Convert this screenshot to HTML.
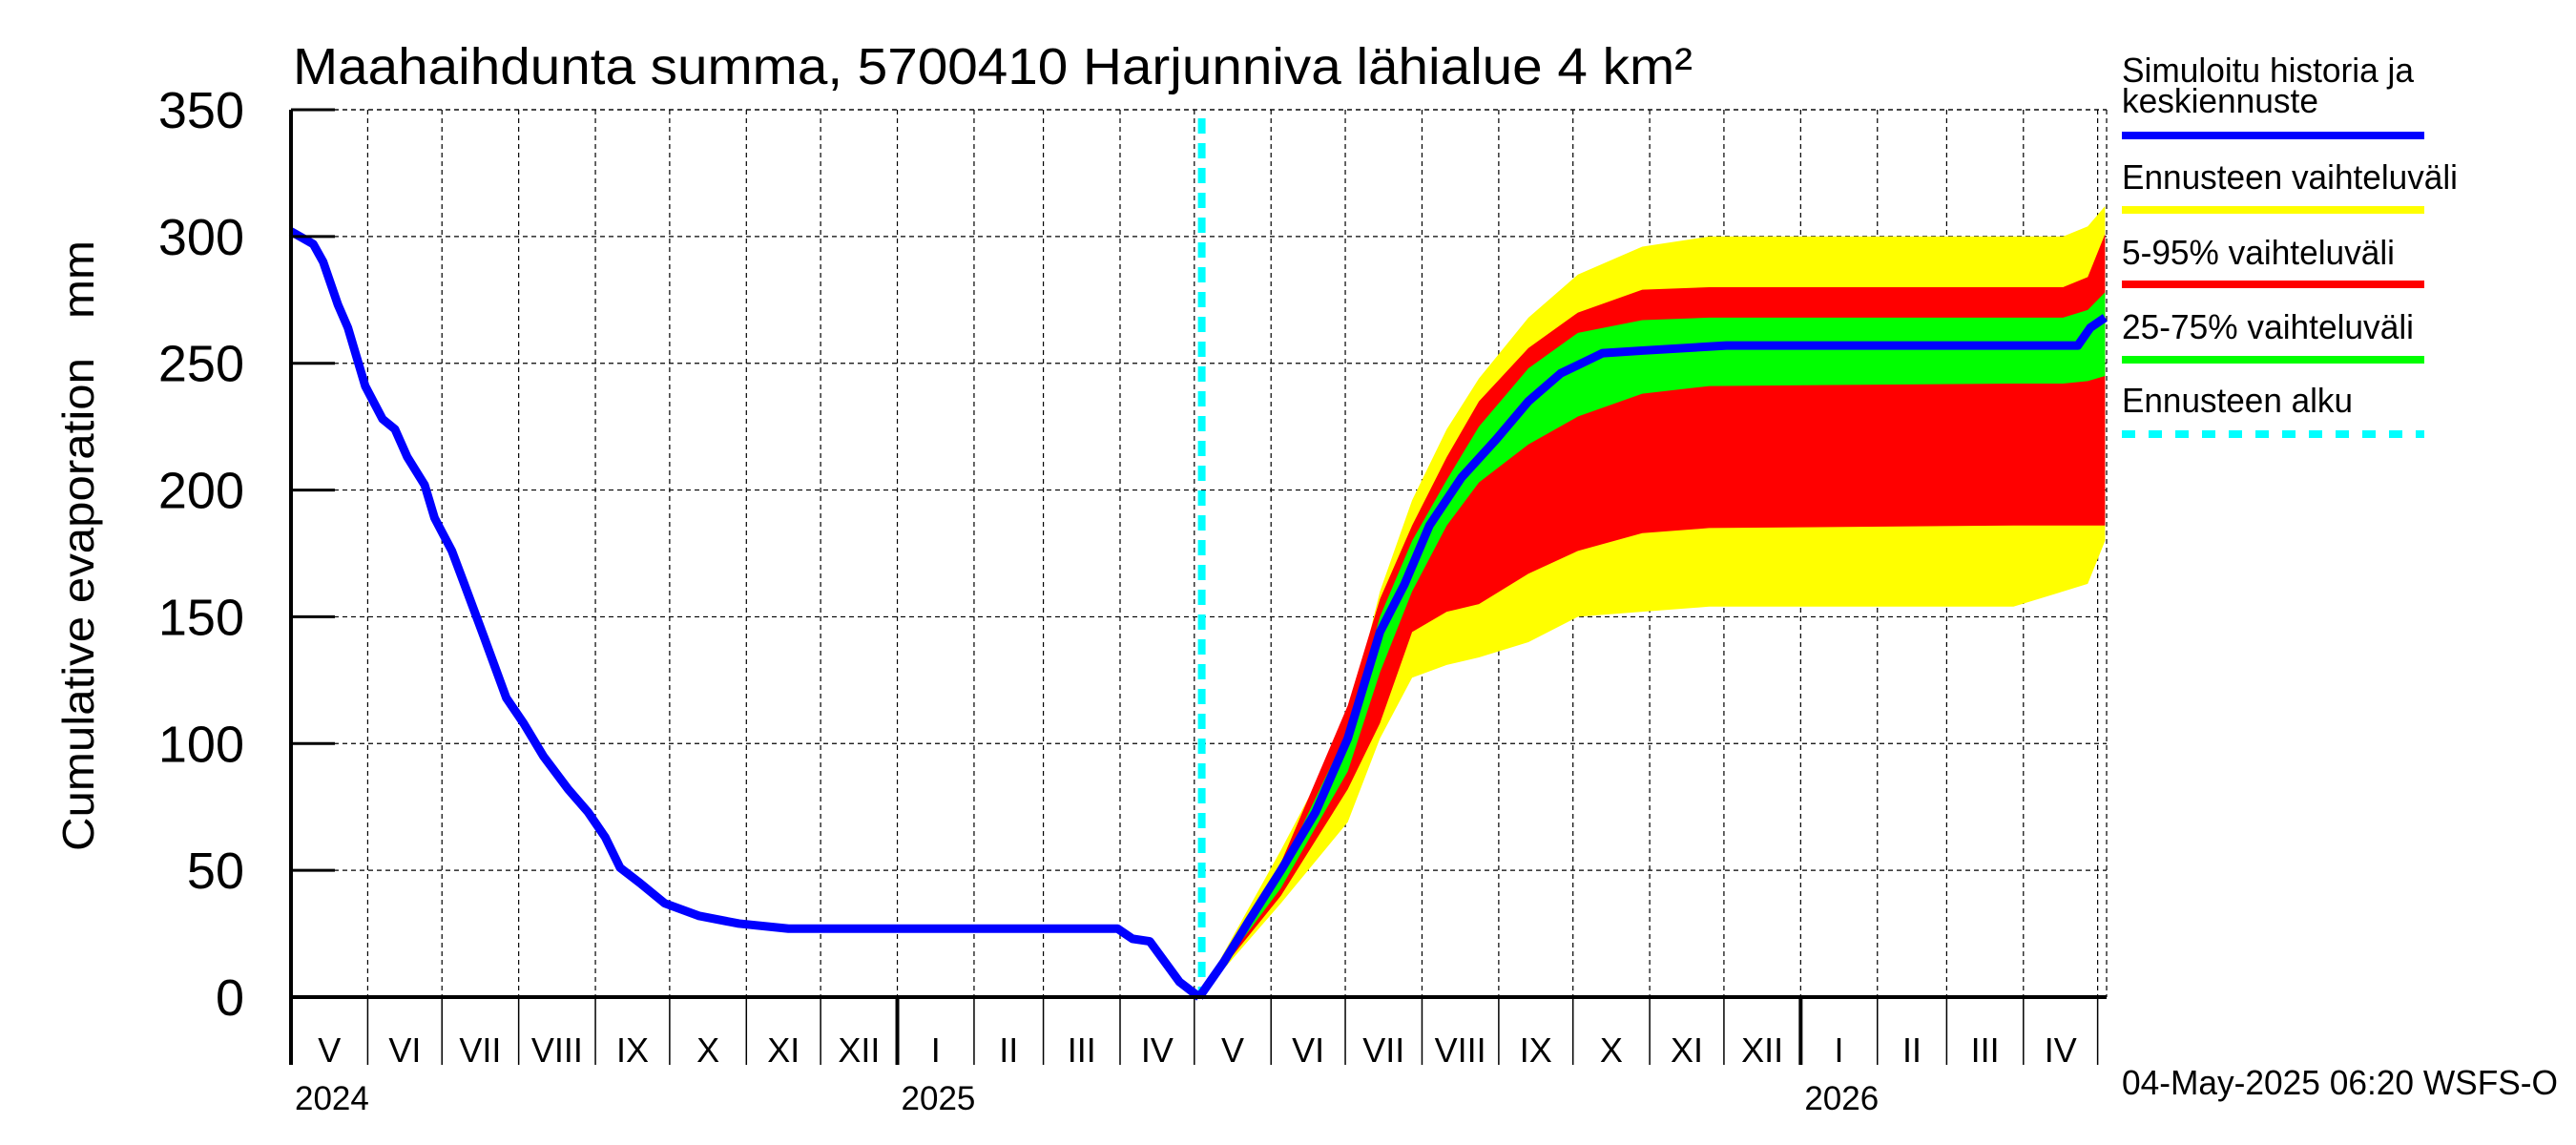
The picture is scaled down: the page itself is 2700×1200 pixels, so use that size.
<!DOCTYPE html>
<html><head><meta charset="utf-8"><style>
html,body{margin:0;padding:0;background:#fff}
svg{display:block;font-family:"Liberation Sans",sans-serif}
</style></head><body>
<svg id="chart" width="2700" height="1200" viewBox="0 0 2700 1200" xmlns="http://www.w3.org/2000/svg">
<text x="307" y="88" font-size="54" textLength="1467" lengthAdjust="spacingAndGlyphs">Maahaihdunta summa, 5700410 Harjunniva lähialue 4 km²</text>
<text transform="translate(98,572) rotate(-90)" text-anchor="middle" font-size="46" textLength="640" lengthAdjust="spacingAndGlyphs" xml:space="preserve">Cumulative evaporation   mm</text>
<g id="grid"></g>
<g id="bands"></g>
<g id="lines"></g>
<g id="axes"></g>
<g id="legend">
<text x="2224" y="86" font-size="36" textLength="306" lengthAdjust="spacingAndGlyphs">Simuloitu historia ja</text>
<text x="2224" y="118" font-size="36" textLength="206" lengthAdjust="spacingAndGlyphs">keskiennuste</text>
<line x1="2224" y1="142" x2="2541" y2="142" stroke="#0000ff" stroke-width="8"/>
<text x="2224" y="198" font-size="36" textLength="352" lengthAdjust="spacingAndGlyphs">Ennusteen vaihteluväli</text>
<line x1="2224" y1="220" x2="2541" y2="220" stroke="#ffff00" stroke-width="8"/>
<text x="2224" y="277" font-size="36" textLength="286" lengthAdjust="spacingAndGlyphs">5-95% vaihteluväli</text>
<line x1="2224" y1="298" x2="2541" y2="298" stroke="#ff0000" stroke-width="8"/>
<text x="2224" y="355" font-size="36" textLength="306" lengthAdjust="spacingAndGlyphs">25-75% vaihteluväli</text>
<line x1="2224" y1="377" x2="2541" y2="377" stroke="#00ff00" stroke-width="8"/>
<text x="2224" y="432" font-size="36" textLength="242" lengthAdjust="spacingAndGlyphs">Ennusteen alku</text>
<line x1="2224" y1="455" x2="2541" y2="455" stroke="#00ffff" stroke-width="8" stroke-dasharray="14,14"/>
</g>
<text x="2224" y="1147" font-size="36" textLength="457" lengthAdjust="spacingAndGlyphs">04-May-2025 06:20 WSFS-O</text>
</svg>
<script>
const yTicks=[0,50,100,150,200,250,300,350];
const monthLabels=["V","VI","VII","VIII","IX","X","XI","XII","I","II","III","IV","V","VI","VII","VIII","IX","X","XI","XII","I","II","III","IV"];
const monthStartDays=[0,31,61,92,123,153,184,214,245,276,304,335,365,396,426,457,488,518,549,579,610,641,669,700,730];
const yearLabels=["2024","2025","2026"];
const yearDays=[0,245,610];
const forecastDay=368;
const histDays=[0,9,13,19,23,30,37,42,47,54,58,65,70,78,87,94,102,112,120,127,133,141,151,165,181,201,334,340,347,353,359,367];
const histValues=[302,297,290,273,264,241,228,224,213,202,189,176,163,142,118,108,95,82,73,63,51,45,37,32,29,27,27,23,22,14,6,0];
const medDays=[367,377,387,400,414,427,440,450,460,473,487,500,513,530,546,580,722,727,733];
const medValues=[0,14,30,50,73,102,144,163,186,205,220,235,246,254,255,257,257,264,268];
const bandDays=[367,400,427,440,453,467,480,500,520,546,573,696,716,726,733];
const yellowUp=[0,58,108,160,196,224,244,268,285,296,300,300,300,304,312];
const redUp=[0,53,115,157,186,213,235,256,270,279,280,280,280,284,301];
const greenUp=[0,50,105,150,180,204,225,248,262,267,268,268,268,271,278];
const greenLo=[0,43,89,128,160,186,203,218,229,238,241,242,242,243,245];
const redLo=[0,40,82,108,144,152,155,167,176,183,185,186,186,186,186];
const yellowLo=[0,37,69,102,126,131,134,140,150,152,154,154,160,163,180];

const X0=305,X1=2208,PXD=2.594,Y0=1045,Y350=115;
const xs=d=>X0+d*PXD;
const ys=v=>Y0-(v/350)*(Y0-Y350);
const NS="http://www.w3.org/2000/svg";
function mk(tag,parent,attrs){const e=document.createElementNS(NS,tag);for(const k in attrs)e.setAttribute(k,attrs[k]);parent.appendChild(e);return e;}
const gridG=document.getElementById('grid'),bandsG=document.getElementById('bands'),linesG=document.getElementById('lines'),axesG=document.getElementById('axes');

yTicks.forEach(v=>{
  if(v>0){const g=mk('line',gridG,{x1:X0,x2:X1,y1:ys(v),y2:ys(v),stroke:'#000','stroke-width':1.2,'stroke-dasharray':'5,4'});
  
  }
  const t=mk('line',axesG,{x1:X0,x2:X0+46,y1:ys(v),y2:ys(v),stroke:'#000','stroke-width':3});
  
  
  const l=mk('text',axesG,{x:256,y:ys(v)+19,'text-anchor':'end','font-size':54});
  
  
  l.textContent=v;
});
monthStartDays.forEach((d,i)=>{
  const x=xs(d);
  if(i>0){const g=mk('line',gridG,{x1:x,x2:x,y1:Y350,y2:Y0,stroke:'#000','stroke-width':1.2,'stroke-dasharray':'5,4'});
  
  }
  const isYear=yearDays.includes(d);
  const t=mk('line',axesG,{x1:x,x2:x,y1:Y0,y2:1116,stroke:'#000','stroke-width':isYear?4:1.5});
  
  
  if(i<monthLabels.length){const l=mk('text',axesG,{x:(x+xs(monthStartDays[i+1]))/2,y:1113,'text-anchor':'middle','font-size':36});
  
  
  l.textContent=monthLabels[i];}
});
yearLabels.forEach((y,i)=>{
  const l=mk('text',axesG,{x:xs(yearDays[i])+4,y:1163,'font-size':35});
  
  
  l.textContent=y;
});
const topFrame=mk('line',gridG,{x1:X0,x2:X1,y1:Y350,y2:Y350,stroke:'#000','stroke-width':1.2,'stroke-dasharray':'5,4'});


const rightFrame=mk('line',gridG,{x1:X1,x2:X1,y1:Y350,y2:Y0,stroke:'#000','stroke-width':1.2,'stroke-dasharray':'5,4'});



function band(up,lo,color,name){
  let p='M'+bandDays.map((d,i)=>xs(d)+','+ys(up[i])).join(' L');
  for(let i=bandDays.length-1;i>=0;i--)p+=' L'+xs(bandDays[i])+','+ys(lo[i]);
  const e=mk('path',bandsG,{d:p+'Z',fill:color});
  
  
}
band(yellowUp,yellowLo,'#ffff00','band-full-range');
band(redUp,redLo,'#ff0000','band-5-95');
band(greenUp,greenLo,'#00ff00','band-25-75');

const fl=mk('line',linesG,{x1:xs(forecastDay),x2:xs(forecastDay),y1:124,y2:Y0,stroke:'#00ffff','stroke-width':8,'stroke-dasharray':'16,10'});


const hp=mk('polyline',linesG,{points:histDays.map((d,i)=>xs(d)+','+ys(histValues[i])).join(' '),fill:'none',stroke:'#0000ff','stroke-width':9,'stroke-linejoin':'round'});


const mp=mk('polyline',linesG,{points:medDays.map((d,i)=>xs(d)+','+ys(medValues[i])).join(' '),fill:'none',stroke:'#0000ff','stroke-width':9,'stroke-linejoin':'round'});



const la=mk('line',axesG,{x1:X0,x2:X0,y1:Y350,y2:Y0,stroke:'#000','stroke-width':4});


const ba=mk('line',axesG,{x1:X0,x2:X1,y1:Y0,y2:Y0,stroke:'#000','stroke-width':4});


</script>
</body></html>
